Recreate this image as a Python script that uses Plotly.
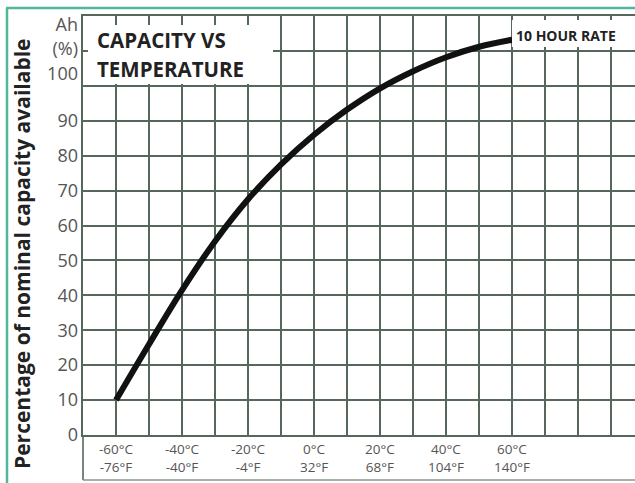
import plotly.graph_objects as go

# ---- data ----
temps_c = [-60, -50, -40, -30, -20, -10, 0, 10, 20, 30, 40, 50, 60]
capacity = [10, 26, 41.5, 55.5, 67.5, 77.5, 86, 93.2, 99.3, 104.2, 108.2, 111.2, 113.2]

xtick_vals = [-60, -40, -20, 0, 20, 40, 60]
xtick_c = ["-60°C", "-40°C", "-20°C", "0°C", "20°C", "40°C", "60°C"]
xtick_f = ["-76°F", "-40°F", "-4°F", "32°F", "68°F", "104°F", "140°F"]

ytick_vals = [0, 10, 20, 30, 40, 50, 60, 70, 80, 90, 103.6, 110.6, 117.6]
ytick_text = ["0", "10", "20", "30", "40", "50", "60", "70", "80", "90", "100", "(%)", "Ah"]

title_lines = ["CAPACITY VS", "TEMPERATURE"]
rate_label = "10 HOUR RATE"
y_title = "Percentage of nominal capacity available"

GRID = "#56685c"
TEAL = "#52b89c"
LABEL = "#555555"
FONT = "Open Sans"

fig = go.Figure()
fig.add_trace(go.Scatter(x=temps_c, y=capacity, mode="lines",
                         line=dict(color="#111111", width=6, shape="spline", smoothing=1),
                         hoverinfo="skip", showlegend=False))
# dummy trace for the label axis
fig.add_trace(go.Scatter(x=[None], y=[None], yaxis="y2", showlegend=False))

W, H = 635, 483
L, R, T, B = 83, 0, 16, 48
ph = H - T - B
pw = W - L - R

def py(ypx):
    return (H - B - ypx) / ph

def px(xpx):
    return (xpx - L) / pw

fig.update_layout(
    width=W, height=H, autosize=False,
    margin=dict(l=L, r=R, t=T, b=B, autoexpand=False),
    paper_bgcolor="white", plot_bgcolor="white",
    xaxis=dict(range=[-70, 97.2], dtick=10, tick0=0, showgrid=True,
               gridcolor=GRID, gridwidth=1.6, showticklabels=False,
               ticks="", zeroline=False, showline=True, linecolor=GRID,
               linewidth=1.6, mirror=True, automargin=False),
    yaxis=dict(range=[0, 120], dtick=10, tick0=0, showgrid=True,
               gridcolor=GRID, gridwidth=1.6, showticklabels=False,
               ticks="", zeroline=False, showline=True, linecolor=GRID,
               linewidth=1.6, automargin=False),
    yaxis2=dict(range=[0, 120], overlaying="y", side="left",
                tickvals=ytick_vals, ticktext=ytick_text, showgrid=False,
                zeroline=False, showline=False, ticks="",
                ticklabelstandoff=4, automargin=False,
                tickfont=dict(family=FONT, size=18, color=LABEL)),
    showlegend=False,
)

shapes = []
# white boxes behind the texts
shapes.append(dict(type="rect", xref="paper", yref="paper",
                   x0=px(88), x1=px(273), y0=py(84), y1=py(25),
                   fillcolor="white", line=dict(width=0), layer="above"))
shapes.append(dict(type="rect", xref="paper", yref="paper",
                   x0=px(512), x1=px(628), y0=py(47), y1=py(20),
                   fillcolor="white", line=dict(width=0), layer="above"))
# extended frame below the axis
shapes.append(dict(type="line", xref="paper", yref="paper",
                   x0=0, x1=0, y0=0, y1=py(480),
                   line=dict(color=GRID, width=1.6)))
shapes.append(dict(type="line", xref="paper", yref="paper",
                   x0=0, x1=1, y0=py(480), y1=py(480),
                   line=dict(color="#8a968e", width=1.6)))
# teal outer border
shapes.append(dict(type="line", xref="paper", yref="paper",
                   x0=px(7), x1=px(7), y0=py(8), y1=py(483),
                   line=dict(color=TEAL, width=2.5)))
shapes.append(dict(type="line", xref="paper", yref="paper",
                   x0=px(6), x1=1, y0=py(8), y1=py(8),
                   line=dict(color=TEAL, width=2.5)))
fig.update_layout(shapes=shapes)

ann = []
ann.append(dict(text=title_lines[0], xref="paper", yref="paper", x=px(95), y=py(40),
                xanchor="left", yanchor="middle", showarrow=False,
                font=dict(family=FONT, size=20.5, color="#222222", weight="bold")))
ann.append(dict(text=title_lines[1], xref="paper", yref="paper", x=px(95), y=py(69),
                xanchor="left", yanchor="middle", showarrow=False,
                font=dict(family=FONT, size=20.5, color="#222222", weight="bold")))
ann.append(dict(text=rate_label, xref="paper", yref="paper", x=px(514), y=py(35),
                xanchor="left", yanchor="middle", showarrow=False,
                font=dict(family=FONT, size=14, color="#222222", weight="bold")))
ann.append(dict(text=y_title, xref="paper", yref="paper", x=px(22), y=py(254),
                xanchor="center", yanchor="middle", textangle=-90, showarrow=False,
                font=dict(family=FONT, size=21, color="#222222", weight="bold")))
for v, c, f in zip(xtick_vals, xtick_c, xtick_f):
    ann.append(dict(text=c + "<br>" + f, xref="x", yref="paper", x=v, y=py(458.5),
                    xanchor="center", yanchor="middle", showarrow=False,
                    font=dict(family=FONT, size=13.5, color=LABEL)))
fig.update_layout(annotations=ann)

fig.write_html("out.html", config={"displayModeBar": False},
               post_script="document.body.style.margin='0';")
